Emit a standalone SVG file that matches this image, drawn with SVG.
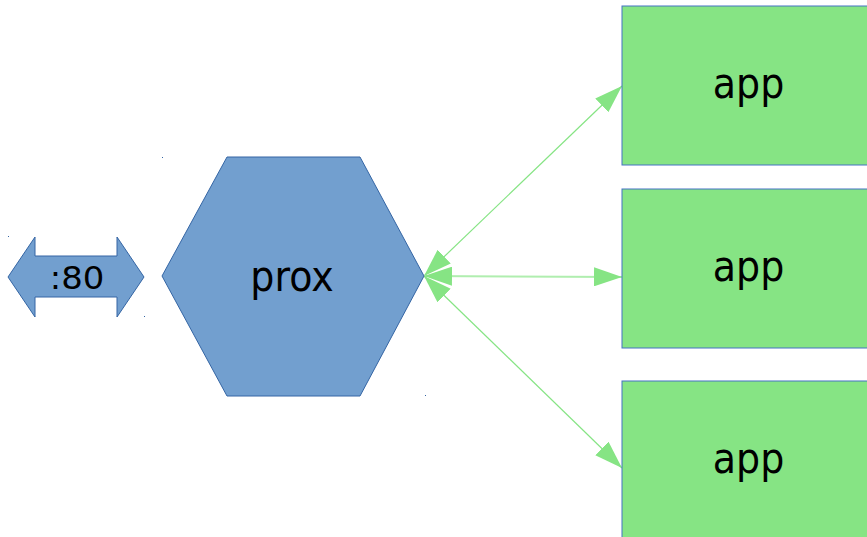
<svg xmlns="http://www.w3.org/2000/svg" width="867" height="537" viewBox="0 0 867 537">
  <defs>
    <style>
      .shape { fill: #729fcf; stroke: #3465a4; stroke-width: 1; }
      .app { fill: #86e484; stroke: #4472c4; stroke-width: 1; }
      .link { stroke: #86e484; stroke-width: 1.2; fill: none; marker-start: url(#head); marker-end: url(#head); }
      .label { font-family: "DejaVu Sans", sans-serif; font-size: 38px; fill: #000; text-anchor: middle; }
      .port { font-family: "DejaVu Sans", sans-serif; font-size: 32px; fill: #000; text-anchor: middle; }
      .dot { fill: #3465a4; }
    </style>
    <marker id="head" markerUnits="userSpaceOnUse" markerWidth="28" markerHeight="19" viewBox="0 0 28 19" refX="28" refY="9.5" orient="auto-start-reverse">
      <path d="M0,0 L28,9.5 L0,19 Z" fill="#86e484"/>
    </marker>
  </defs>

  <rect width="867" height="537" fill="#ffffff"/>

  <!-- connectors between the proxy and the app servers -->
  <g id="connectors">
    <line class="link" x1="424" y1="276" x2="622" y2="86"/>
    <line class="link" x1="424" y1="276" x2="622" y2="277" style="stroke-width:2;stroke:#b0eeaf"/>
    <line class="link" x1="424" y1="276" x2="622" y2="468"/>
  </g>

  <!-- port 80 double arrow -->
  <g id="port80">
    <polygon class="shape" points="8,277 35,237 35,256 117,256 117,237 144,277 117,317 117,297 35,297 35,317"/>
    <text class="port" transform="translate(77,289) scale(1.06,1)">:80</text>
    <rect class="dot" x="8" y="236" width="1" height="1"/>
    <rect class="dot" x="144" y="316" width="1" height="1"/>
  </g>

  <!-- reverse proxy -->
  <g id="prox">
    <polygon class="shape" points="227,157 360,157 424,276 360,396 227,396 162,276"/>
    <text class="label" transform="translate(292,291) scale(1,1.12)">prox</text>
    <rect class="dot" x="162" y="157" width="1" height="1"/>
    <rect class="dot" x="425" y="395" width="1" height="1"/>
  </g>

  <!-- app servers -->
  <g id="app1">
    <rect class="app" x="622" y="6" width="260" height="159"/>
    <text class="label" transform="translate(748.500,98) scale(1,1.12)">app</text>
  </g>
  <g id="app2">
    <rect class="app" x="622" y="189" width="260" height="159"/>
    <text class="label" transform="translate(748.500,281) scale(1,1.12)">app</text>
  </g>
  <g id="app3">
    <rect class="app" x="622" y="381" width="260" height="170"/>
    <text class="label" transform="translate(748.500,473) scale(1,1.12)">app</text>
  </g>
</svg>
